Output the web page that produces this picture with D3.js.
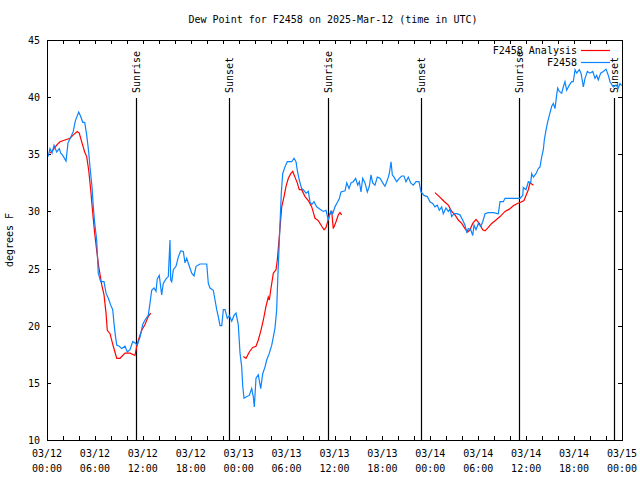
<!DOCTYPE html>
<html>
<head>
<meta charset="utf-8">
<script src="https://cdn.jsdelivr.net/npm/d3@7/dist/d3.min.js"></script>
<style>
  html, body { margin: 0; padding: 0; background: #fff; }
  svg { display: block; font-family: "DejaVu Sans Mono", monospace; font-size: 10px; }
</style>
</head>
<body>
<div id="chart"></div>
<script>
// hours after 2025-03-12 00:00 UTC
var blueHours = [0.13,0.38,0.63,0.88,1.21,1.54,1.72,1.97,2.38,2.63,2.97,3.29,3.54,3.97,4.22,4.47,4.72,4.97,5.22,5.38,
  5.63,5.80,5.97,6.22,6.42,6.72,7.14,7.39,7.68,7.98,8.23,8.39,8.55,8.73,9.05,9.35,9.77,10.06,10.39,10.73,
  11.02,11.31,11.65,11.98,12.27,12.68,12.90,13.11,13.40,13.65,13.81,14.06,14.36,14.56,14.90,15.19,15.40,15.49,15.62,15.82,
  16.15,16.44,16.74,17.07,17.28,17.49,17.82,18.12,18.41,18.66,19.16,20.00,20.20,20.41,20.82,21.04,21.25,21.45,21.66,21.88,
  22.08,22.29,22.58,22.83,23.13,23.42,23.67,23.95,24.17,24.38,24.51,24.67,25.01,25.33,25.63,25.83,25.96,26.17,26.46,26.76,
  27.01,27.30,27.51,27.84,28.14,28.34,28.55,28.76,28.89,29.01,29.18,29.34,29.51,29.80,30.09,30.64,30.93,31.18,31.34,31.59,
  31.89,32.09,32.43,32.72,32.93,33.15,33.43,33.77,34.18,34.60,34.94,35.22,35.52,35.77,36.06,36.28,36.60,36.81,37.32,37.53,
  37.82,38.07,38.35,38.65,38.91,39.11,39.32,39.53,39.82,40.11,40.36,40.57,40.78,41.07,41.36,41.70,42.04,42.32,42.54,42.74,
  42.86,43.08,43.24,43.45,43.79,44.11,44.42,44.70,44.95,45.24,45.54,45.87,46.21,46.58,46.83,47.21,47.62,47.95,48.29,48.58,
  48.87,49.12,49.42,49.62,49.96,50.25,50.46,50.68,50.96,51.30,51.71,52.05,52.34,52.55,52.75,53.05,53.31,53.47,53.72,54.01,
  54.31,54.56,54.85,55.26,55.89,56.51,56.73,57.14,57.35,57.98,58.60,59.23,59.57,59.64,59.98,60.27,60.57,60.69,60.90,61.23,
  61.52,61.73,61.95,62.15,62.27,62.48,62.70,62.90,63.20,63.40,63.61,63.82,63.95,64.15,64.45,64.65,64.86,65.07,65.40,65.70,
  65.90,66.12,66.33,66.65,66.87,67.16,67.37,67.66,67.99,68.33,68.62,68.83,69.03,69.33,69.66,70.00,70.29,70.50,70.91,71.25,
  71.54,71.75,71.95];
var blueValues = [34.8,35.5,35.1,35.8,35.2,35.5,35.1,34.9,34.4,36.0,36.5,37.0,37.9,38.7,38.3,37.8,37.8,36.7,35.2,33.9,
  32.2,30.4,29.0,27.5,24.6,23.85,23.85,22.85,22.4,21.8,21.4,20.2,19.2,18.3,18.2,18.0,18.2,17.7,17.9,18.6,
  18.5,18.3,19.0,20.1,20.5,20.9,22.0,23.1,23.3,23.0,24.1,24.4,22.7,23.7,24.1,24.3,27.5,24.0,23.85,24.9,
  25.2,26.0,26.55,26.5,25.5,25.9,25.2,24.6,24.35,25.2,25.4,25.4,23.7,23.3,23.1,22.25,21.4,20.8,20.0,20.0,
  21.4,21.4,20.65,20.9,20.4,20.9,21.1,20.1,17.6,16.4,14.7,13.65,13.8,13.9,14.5,13.8,12.9,15.4,15.7,14.5,
  15.8,16.4,17.0,17.6,18.3,19.0,19.8,21.4,24.0,26.0,29.0,31.6,33.3,33.9,34.35,34.35,34.65,34.35,33.6,32.75,
  32.0,31.9,31.6,31.75,30.85,30.6,30.85,30.4,30.2,30.0,30.1,29.25,30.0,29.8,30.4,30.7,31.1,31.7,31.8,32.5,
  32.0,32.5,32.6,32.9,32.3,32.6,31.7,32.9,32.5,31.7,32.2,33.2,32.5,32.3,33.0,32.9,32.5,32.2,32.6,33.0,
  33.3,34.35,33.2,33.0,32.6,32.9,33.1,33.1,32.6,33.0,32.5,32.3,32.6,32.6,31.7,31.4,31.3,30.85,30.7,30.4,
  30.55,30.1,30.4,29.8,30.3,30.0,30.2,29.55,29.8,29.8,29.7,29.25,28.8,28.2,28.5,28.4,27.9,28.8,28.4,28.95,
  28.7,29.1,29.8,29.9,29.9,29.8,30.85,30.85,31.15,31.15,31.15,31.15,31.4,32.1,31.9,32.6,32.5,33.3,33.0,33.3,
  33.75,33.9,34.8,35.4,36.25,37.1,37.85,38.4,39.2,39.45,39.0,40.2,40.8,40.5,40.35,40.9,41.35,40.6,41.05,41.35,
  41.35,42.4,42.1,42.4,42.1,40.9,41.65,42.25,42.1,42.25,41.65,41.9,41.5,42.1,42.25,42.45,41.9,41.35,40.9,41.05,
  40.8,41.2,41.0];

// analysis, three separate runs
var red1Hours = [0.38,0.79,1.21,1.63,2.25,2.88,3.29,3.79,4.04,4.38,4.72,4.97,5.22,5.47,5.72,5.97,6.22,6.47,6.85,7.14,
  7.39,7.55,7.89,8.30,8.73,9.14,9.77,10.39,11.02,11.23,11.56,11.86,12.27,12.68,12.99];
var red1Values = [35.1,35.4,35.8,36.1,36.25,36.4,36.7,37.0,36.85,36.0,35.2,34.8,33.6,31.9,29.9,28.1,26.6,25.2,23.6,22.7,
  21.1,19.6,19.3,18.2,17.15,17.15,17.6,17.6,17.4,18.2,19.0,19.6,20.1,20.8,21.1];
var red2Hours = [24.58,24.92,25.33,25.76,26.17,26.46,26.76,27.09,27.42,27.71,27.84,28.01,28.34,28.68,28.84,29.09,29.39,29.68,29.93,30.22,
  30.52,30.77,31.05,31.34,31.59,31.89,32.31,32.72,33.15,33.56,33.97,34.40,34.69,34.94,35.15,35.35,35.65,35.85,36.19,36.48,
  36.69,36.90];
var red2Values = [17.3,17.15,17.7,18.1,18.2,18.75,19.5,20.5,21.7,22.5,22.25,23.1,24.6,24.9,25.75,27.8,30.4,31.3,32.2,32.9,
  33.3,33.5,33.0,32.5,31.9,31.9,31.3,30.95,30.4,29.4,29.2,28.7,28.4,28.6,29.1,29.7,30.0,28.5,29.1,29.7,
  29.9,29.7];
var red3Hours = [48.58,49.12,49.55,49.84,50.25,50.68,51.09,51.50,51.93,52.34,52.68,52.97,53.31,53.72,54.13,54.56,54.85,55.26,55.68,56.22,
  56.73,57.35,57.89,58.39,58.89,59.31,59.73,59.98,60.27,60.48,60.90];
var red3Values = [31.65,31.3,31.0,30.8,30.55,30.0,29.7,29.25,28.95,28.5,28.2,28.4,28.95,29.3,28.95,28.4,28.3,28.6,28.95,29.25,
  29.55,30.0,30.2,30.5,30.7,30.8,30.95,31.4,31.9,32.5,32.3];

var sunHours = [11.14, 22.83, 35.22, 46.83, 59.14, 70.96];
var sunLabels = ["Sunrise", "Sunset", "Sunrise", "Sunset", "Sunrise", "Sunset"];

var yTicks = [10, 15, 20, 25, 30, 35, 40, 45];
var seriesNames = ["F2458 Analysis", "F2458"];
var seriesColors = ["#ff0000", "#0a84ff"];

(function(){
var W = 640, H = 480,
  L = 47, R = 622, T = 40, B = 440,
  t0 = Date.UTC(2025, 2, 12);

function toDate(h){ return new Date(t0 + h * 3600e3); }
function pairs(hs, vs){ return hs.map(function(h, i){ return {t: toDate(h), v: vs[i]}; }); }

var x = d3.scaleUtc().domain([toDate(0), toDate(72)]).range([L, R]),
  y = d3.scaleLinear().domain([10, 45]).range([B, T]);

var svg = d3.select("#chart").append("svg").attr("width", W).attr("height", H);

svg.append("text").attr("x", 333).attr("y", 23).attr("text-anchor", "middle")
  .text("Dew Point for F2458 on 2025-Mar-12 (time in UTC)");

// ticks, drawn inward on all four sides
var xTickVals = d3.utcHour.every(2).range(toDate(0), toDate(72.01));
var axBottom = svg.append("g").attr("transform", "translate(0," + B + ")")
  .call(d3.axisBottom(x).tickValues(xTickVals).tickSizeInner(-4).tickSizeOuter(0).tickFormat(""));
var axTop = svg.append("g").attr("transform", "translate(0," + T + ")")
  .call(d3.axisTop(x).tickValues(xTickVals).tickSizeInner(-4).tickSizeOuter(0).tickFormat(""));
var axLeft = svg.append("g").attr("transform", "translate(" + L + ",0)")
  .call(d3.axisLeft(y).tickValues(yTicks).tickSizeInner(-4).tickSizeOuter(0).tickFormat(""));
var axRight = svg.append("g").attr("transform", "translate(" + R + ",0)")
  .call(d3.axisRight(y).tickValues(yTicks).tickSizeInner(-4).tickSizeOuter(0).tickFormat(""));
[axBottom, axTop, axLeft, axRight].forEach(function(g){
  g.select(".domain").remove();
  g.selectAll("line").attr("stroke", "#000").attr("shape-rendering", "crispEdges");
});

// tick labels
var fmtDay = d3.utcFormat("%m/%d"), fmtHour = d3.utcFormat("%H:%M");
var xl = svg.append("g").selectAll("g")
  .data(xTickVals.filter(function(d){ return d.getUTCHours() % 6 === 0; }))
  .join("g").attr("transform", function(d){ return "translate(" + x(d) + ",0)"; })
  .attr("text-anchor", "middle");
xl.append("text").attr("y", 457).text(function(d){ return fmtDay(d); });
xl.append("text").attr("y", 472).text(function(d){ return fmtHour(d); });

svg.append("g").selectAll("text").data(yTicks).join("text")
  .attr("x", 40).attr("y", function(d){ return y(d) + 4; })
  .attr("text-anchor", "end").text(function(d){ return d; });

svg.append("text").attr("transform", "translate(13," + ((T + B) / 2) + ") rotate(-90)")
  .attr("text-anchor", "middle").text("degrees F");

// sunrise / sunset markers
var sun = svg.append("g").selectAll("g").data(sunHours).join("g")
  .attr("transform", function(d){ return "translate(" + Math.round(x(toDate(d))) + ",0)"; });
sun.append("line").attr("x1", 0.5).attr("x2", 0.5).attr("y1", 98).attr("y2", B)
  .attr("stroke", "#000").attr("stroke-width", 1.2);
sun.append("text").attr("transform", "translate(4,93) rotate(-90)")
  .text(function(d, i){ return sunLabels[i]; });

// series
var line = d3.line().x(function(d){ return x(d.t); }).y(function(d){ return y(d.v); });
var plot = svg.append("g");
[pairs(red1Hours, red1Values), pairs(red2Hours, red2Values), pairs(red3Hours, red3Values)].forEach(function(seg){
  plot.append("path").datum(seg).attr("d", line)
    .attr("fill", "none").attr("stroke", seriesColors[0]).attr("stroke-width", 1.2);
});
plot.append("path").datum(pairs(blueHours, blueValues)).attr("d", line)
  .attr("fill", "none").attr("stroke", seriesColors[1]).attr("stroke-width", 1.2);

// frame
svg.append("rect").attr("x", L + 0.5).attr("y", T + 0.5).attr("width", R - L).attr("height", B - T)
  .attr("fill", "none").attr("stroke", "#000").attr("shape-rendering", "crispEdges");

// legend
var leg = svg.append("g").selectAll("g").data(seriesNames).join("g")
  .attr("transform", function(d, i){ return "translate(0," + (50 + i * 12) + ")"; });
leg.append("text").attr("x", 577).attr("y", 4).attr("text-anchor", "end").text(function(d){ return d; });
leg.append("line").attr("x1", 581).attr("x2", 610).attr("y1", 0.5).attr("y2", 0.5)
  .attr("stroke", function(d, i){ return seriesColors[i]; }).attr("stroke-width", 1.2);
})();
</script>
</body>
</html>
